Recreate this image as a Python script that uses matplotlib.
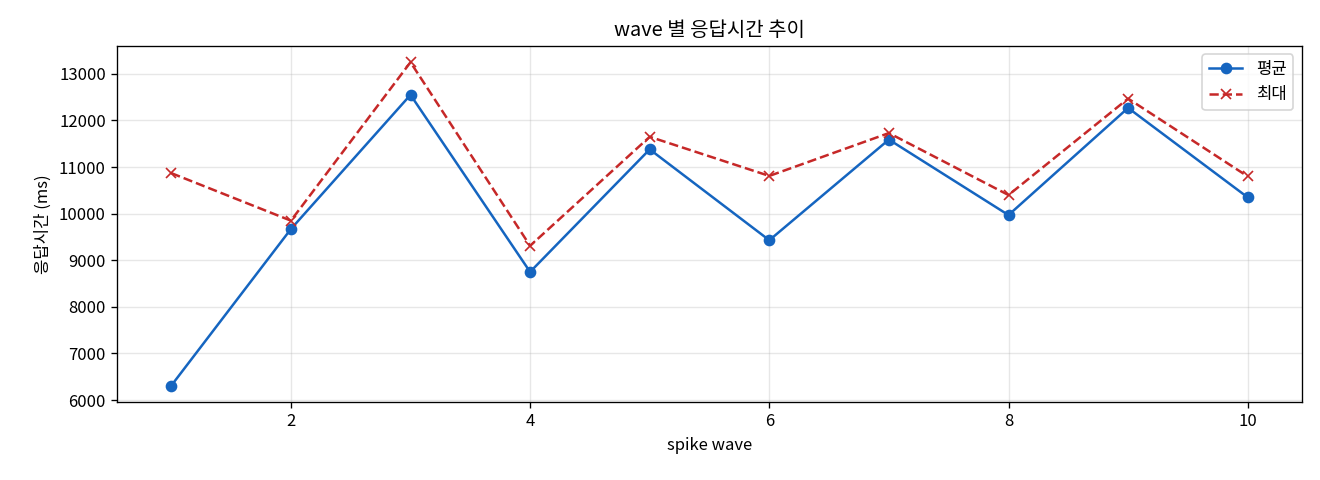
import matplotlib
matplotlib.use("Agg")
import matplotlib.pyplot as plt

plt.rcParams['font.family'] = ['Noto Sans CJK KR', 'DejaVu Sans']

# wave 별 응답시간 (ms)
waves = [1, 2, 3, 4, 5, 6, 7, 8, 9, 10]
avg_ms = [6310, 9670, 12550, 8750, 11380, 9430, 11590, 9970, 12270, 10350]
max_ms = [10870, 9850, 13250, 9310, 11650, 10810, 11730, 10400, 12470, 10800]

fig, ax = plt.subplots(figsize=(11, 4), dpi=120)

ax.plot(waves, avg_ms, marker="o", color="#1565C0", lw=1.5, ms=6, label="평균")
ax.plot(waves, max_ms, marker="x", ls="--", color="#C62828", lw=1.5, ms=6, label="최대")

ax.set_title("wave 별 응답시간 추이", fontsize=12)
ax.set_xlabel("spike wave", fontsize=10)
ax.set_ylabel("응답시간 (ms)", fontsize=10)
ax.grid(True, alpha=0.3)
ax.legend(loc="upper right")

fig.subplots_adjust(left=0.089, right=0.986, top=0.904, bottom=0.163)
fig.savefig("out.png")
